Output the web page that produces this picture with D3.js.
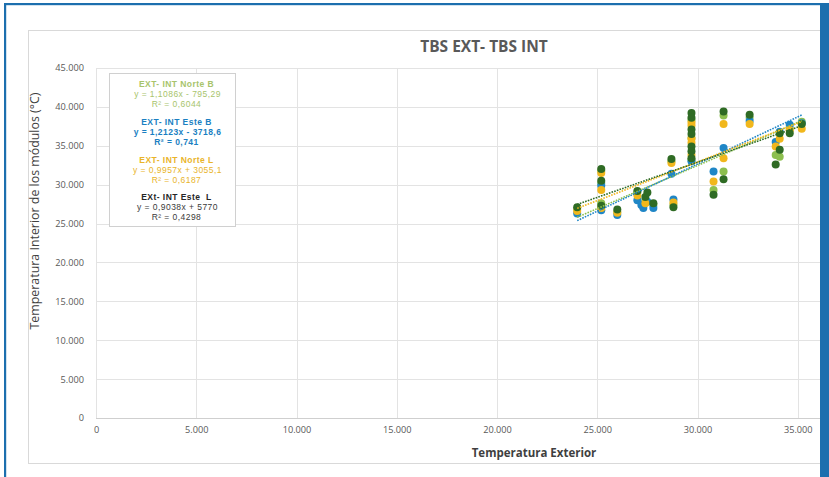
<!DOCTYPE html>
<html>
<head>
<meta charset="utf-8">
<script src="https://cdn.jsdelivr.net/npm/d3@7"></script>
<style>
  html, body { margin: 0; padding: 0; background: #ffffff; }
  svg { display: block; }
  text { font-family: "Open Sans", Lato, "Liberation Sans", sans-serif; }
  .eq text { font-family: "Liberation Sans", Arial, sans-serif; white-space: pre; }
</style>
</head>
<body>
<svg id="chart" width="829" height="477"></svg>
<script>
// Exterior vs interior dry-bulb temperature, four module series
const seriesNames = ["EXT- INT Norte B", "EXT- INT Este B", "EXT- INT Norte L", "EXt- INT Este  L"];
const seriesColors = ["#8cbf4e", "#1f86c6", "#f1b71c", "#2f6b24"];
const legendColors = ["#a8c46c", "#1a7fc2", "#e9b429", "#262626"];
const legendEqColors = ["#a8c46c", "#1a7fc2", "#e9b429", "#3a3a3a"];

// Norte B
const norteBX = [24000, 25200, 25200, 25200, 26000, 27000, 27400, 27800, 28700, 28800, 29700, 29700, 29700, 30800, 31300, 31300, 32600, 33900, 34100, 34600, 35200];
const norteBY = [26900, 31800, 30200, 27600, 26500, 29000, 28000, 27400, 33000, 27400, 38300, 36000, 33200, 29300, 38900, 31700, 38600, 33800, 33600, 37200, 38100];
// Este B
const esteBX = [24000, 25200, 25200, 26000, 27000, 27200, 27300, 27500, 27800, 28700, 28800, 29700, 30800, 31300, 32600, 33900, 34100, 34600, 35200];
const esteBY = [26300, 29900, 26700, 26100, 28000, 27400, 27000, 27800, 27000, 31400, 28100, 33000, 31700, 34700, 38200, 35500, 36800, 37700, 37900];
// Norte L
const norteLX = [24000, 25200, 25200, 25200, 26000, 27000, 27400, 28700, 28800, 29700, 29700, 29700, 29700, 29700, 30800, 31300, 31300, 32600, 33900, 34100, 34600, 35200];
const norteLY = [26600, 31500, 29300, 27000, 26400, 28600, 27600, 32800, 27700, 38000, 37600, 35900, 35400, 33800, 30400, 37800, 33400, 37800, 34900, 35900, 37000, 37200];
// Este L
const esteLX = [24000, 25200, 25200, 25200, 26000, 27000, 27400, 27500, 27800, 28700, 28800, 29700, 29700, 29700, 29700, 29700, 29700, 29700, 30800, 31300, 31300, 32600, 33900, 34100, 34100, 34600, 35200];
const esteLY = [27100, 32000, 30500, 27300, 26800, 29200, 28400, 29000, 27600, 33300, 27100, 39200, 38600, 37100, 36500, 34900, 34300, 33400, 28700, 39400, 30700, 39000, 32600, 36600, 34500, 36600, 37800];

// Linear trendline coefficients and fit quality
const slopes = [1.1086, 1.2123, 0.9957, 0.9038];
const intercepts = [-795.29, -3718.6, 3055.1, 5770];
const rSquared = ["0,6044", "0,741", "0,6187", "0,4298"];

const xGridTicks = [0, 5000, 10000, 15000, 20000, 25000, 30000, 35000, 40000];
const xTickLabels = [0, 5000, 10000, 15000, 20000, 25000, 30000, 35000];
const yTicks = [0, 5000, 10000, 15000, 20000, 25000, 30000, 35000, 40000, 45000];

const chartTitle = "TBS EXT- TBS INT";
const xTitle = "Temperatura Exterior";
const yTitle = "Temperatura Interior de los módulos (°C)";

const xsAll = [norteBX, esteBX, norteLX, esteLX];
const ysAll = [norteBY, esteBY, norteLY, esteLY];

const locale = d3.formatLocale({ decimal: ",", thousands: ".", grouping: [3], currency: ["", ""] });
const fmt = locale.format(",");

const svg = d3.select("#chart");

// chart frame
svg.append("rect").attr("x", 28.5).attr("y", 30.5).attr("width", 900).attr("height", 433)
  .attr("fill", "#ffffff").attr("stroke", "#d9d9d9").attr("stroke-width", 1);

const x = d3.scaleLinear().domain([0, 40000]).range([96, 898]);
const y = d3.scaleLinear().domain([0, 45000]).range([418, 68]);

// gridlines
const grid = svg.append("g");
grid.selectAll("line.h").data(yTicks).join("line")
  .attr("x1", x(0)).attr("x2", x(40000))
  .attr("y1", d => Math.round(y(d)) + 0.5).attr("y2", d => Math.round(y(d)) + 0.5)
  .attr("stroke", d => d === 0 ? "#cfcfcf" : "#e3e3e3").attr("stroke-width", 1);
grid.selectAll("line.v").data(xGridTicks).join("line")
  .attr("y1", y(0)).attr("y2", y(45000))
  .attr("x1", d => Math.round(x(d)) + 0.5).attr("x2", d => Math.round(x(d)) + 0.5)
  .attr("stroke", "#e3e3e3").attr("stroke-width", 1);

// axes (labels only)
const xAxis = d3.axisBottom(x).tickValues(xTickLabels).tickFormat(fmt).tickSize(0).tickPadding(8);
const gx = svg.append("g").attr("transform", `translate(0,${y(0)})`).call(xAxis);
gx.select(".domain").remove();
gx.selectAll("text").attr("fill", "#595959").attr("font-size", 9.2).attr("font-family", "\"Open Sans\", sans-serif");

const yAxis = d3.axisLeft(y).tickValues(yTicks).tickFormat(fmt).tickSize(0).tickPadding(12);
const gy = svg.append("g").attr("transform", `translate(${x(0)},0)`).call(yAxis);
gy.select(".domain").remove();
gy.selectAll("text").attr("fill", "#595959").attr("font-size", 9.2).attr("font-family", "\"Open Sans\", sans-serif");

// points
xsAll.forEach((xs, i) => {
  const pts = xs.map((v, j) => [v, ysAll[i][j]]);
  svg.append("g").selectAll("circle").data(pts).join("circle")
    .attr("cx", d => x(d[0])).attr("cy", d => y(d[1])).attr("r", 4)
    .attr("fill", seriesColors[i]);
});

// trendlines over each series' range
xsAll.forEach((xs, i) => {
  const x0 = d3.min(xs), x1 = d3.max(xs);
  const line = d3.line().x(d => x(d)).y(d => y(slopes[i] * d + intercepts[i]));
  svg.append("path").datum([x0, x1]).attr("d", line)
    .attr("fill", "none").attr("stroke", seriesColors[i])
    .attr("stroke-width", 1.6).attr("stroke-dasharray", "1.6,1.2");
});

// title and axis titles
svg.append("text").attr("x", 484).attr("y", 52).attr("text-anchor", "middle")
  .attr("font-size", 15.5).attr("font-weight", "bold").attr("fill", "#595959").text(chartTitle);
svg.append("text").attr("x", 534).attr("y", 457).attr("text-anchor", "middle")
  .attr("font-size", 11.5).attr("font-weight", "bold").attr("fill", "#3f3f3f").text(xTitle);
svg.append("text").attr("transform", "translate(39,211) rotate(-90)").attr("text-anchor", "middle")
  .attr("font-size", 12.4).attr("fill", "#3f3f3f").text(yTitle);

// trendline equation box
svg.append("rect").attr("x", 109.5).attr("y", 73.5).attr("width", 126).attr("height", 153)
  .attr("fill", "#ffffff").attr("stroke", "#d0d0d0").attr("stroke-width", 1);

const num = v => String(Math.abs(v)).replace(".", ",");
const legendRows = [84, 122, 160, 197];
const eq = svg.append("g").attr("class", "eq");
seriesNames.forEach((name, i) => {
  const y0 = legendRows[i];
  const g = eq.append("g").attr("text-anchor", "middle").attr("font-size", 8.5)
    .attr("letter-spacing", 0.45);
  g.append("text").attr("x", 176.5).attr("y", y0 + 3).attr("font-weight", "bold")
    .attr("fill", legendColors[i]).text(name);
  const sign = intercepts[i] < 0 ? " - " : " + ";
  g.append("text").attr("x", 177.5).attr("y", y0 + 13)
    .attr("font-weight", i === 1 ? "bold" : "normal")
    .attr("fill", legendEqColors[i]).text(`y = ${num(slopes[i])}x${sign}${num(intercepts[i])}`);
  g.append("text").attr("x", 176.5).attr("y", y0 + 23)
    .attr("font-weight", i === 1 ? "bold" : "normal")
    .attr("fill", legendEqColors[i]).text(`R² = ${rSquared[i]}`);
});

// page frame
svg.append("rect").attr("x", 0).attr("y", 0).attr("width", 829).attr("height", 3).attr("fill", "#ffffff");
svg.append("rect").attr("x", 4).attr("y", 3).attr("width", 825).attr("height", 2.2).attr("fill", "#1c6fae");
svg.append("rect").attr("x", 4).attr("y", 3).attr("width", 2.2).attr("height", 474).attr("fill", "#1c6fae");
svg.append("rect").attr("x", 820).attr("y", 3).attr("width", 9).attr("height", 474).attr("fill", "#1c6fae");
</script>
</body>
</html>
